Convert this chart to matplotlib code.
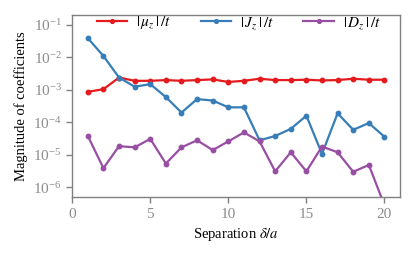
import numpy as np
import matplotlib
matplotlib.use("Agg")
import matplotlib.pyplot as plt

# ----------------------------
# Datos
# ----------------------------
sep = list(range(1, 21))
mu_z = [8.7e-4, 1.05e-3, 2.4e-3, 1.9e-3, 1.9e-3, 2.0e-3, 1.9e-3, 2.0e-3, 2.1e-3, 1.75e-3,
        1.9e-3, 2.2e-3, 2.0e-3, 2.0e-3, 2.05e-3, 1.95e-3, 2.0e-3, 2.2e-3, 2.05e-3, 2.05e-3]
J_z = [3.9e-2, 1.1e-2, 2.4e-3, 1.25e-3, 1.5e-3, 6.0e-4, 2.0e-4, 5.2e-4, 4.7e-4, 2.9e-4,
       2.9e-4, 2.8e-5, 3.8e-5, 6.3e-5, 1.6e-4, 1.07e-5, 1.9e-4, 5.9e-5, 9.5e-5, 3.6e-5]
D_z = [3.8e-5, 3.9e-6, 1.85e-5, 1.7e-5, 3.1e-5, 5.4e-6, 1.7e-5, 2.8e-5, 1.4e-5, 2.6e-5,
       4.9e-5, 2.6e-5, 3.1e-6, 1.2e-5, 3.1e-6, 1.8e-5, 1.2e-5, 3.0e-6, 4.9e-6, 2.8e-7]

labels = [r"$|\,\mu_z\,|\,/t$", r"$|\,J_z\,|\,/t$", r"$|\,D_z\,|\,/t$"]
colors = ["#e41a1c", "#377eb8", "#984ea3"]

plt.rcParams["font.family"] = ["Liberation Serif", "DejaVu Serif"]
plt.rcParams["mathtext.fontset"] = "stix"
plt.rcParams["font.size"] = 11

fig, ax = plt.subplots(figsize=(4.15, 2.56), dpi=100)
fig.subplots_adjust(left=0.174, right=0.964, top=0.941, bottom=0.23)

for y, lab, c in zip([mu_z, J_z, D_z], labels, colors):
    ax.plot(sep, y, "-o", color=c, lw=1.6, ms=3.2, label=lab)

ax.set_yscale("log")
ax.set_xlim(0, 21)
ax.set_ylim(5e-7, 2e-1)
ax.set_xticks([0, 5, 10, 15, 20])
ax.set_yticks([1e-1, 1e-2, 1e-3, 1e-4, 1e-5, 1e-6])
ax.minorticks_off()

gray = "#808080"
for s in ax.spines.values():
    s.set_color(gray)
    s.set_linewidth(1.0)
ax.tick_params(colors=gray, labelcolor="#8c8c8c", direction="out", length=4, width=1.0,
               labelsize=11)

ax.set_xlabel(r"Separation $\delta/a$", fontsize=10.5)
ax.set_ylabel("Magnitude of coefficients", fontsize=10.5)

ax.legend(loc="upper left", ncol=3, frameon=False, fontsize=11,
          handlelength=2.0, handletextpad=0.6, columnspacing=1.9,
          borderaxespad=0.0, borderpad=0.2, markerscale=0.85,
          bbox_to_anchor=(0.065, 1.02))

fig.savefig("out.png", dpi=100)
